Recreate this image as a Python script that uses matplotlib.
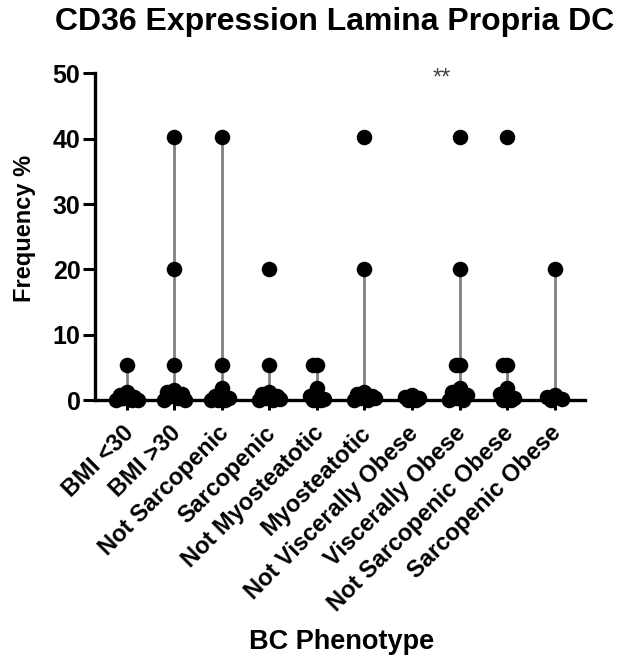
import numpy as np
import matplotlib
matplotlib.use('Agg')
import matplotlib.pyplot as plt
import matplotlib.transforms as mtransforms

plt.rcParams['font.family'] = ['Liberation Sans', 'DejaVu Sans']
plt.rcParams['font.weight'] = 'bold'

groups = ['BMI <30', 'BMI >30', 'Not Sarcopenic', 'Sarcopenic', 'Not Myosteatotic',
          'Myosteatotic', 'Not Viscerally Obese', 'Viscerally Obese',
          'Not Sarcopenic Obese', 'Sarcopenic Obese']

# frequency values per group
values = [
    [5.4, 1.2, 0.8, 0.5, 0.3, 0.2, 0.1, 0.0, 0.0, 0.4],
    [40.2, 20.0, 5.4, 1.5, 1.2, 0.9, 0.6, 0.3, 0.1, 0.0, 0.5],
    [40.2, 5.4, 1.8, 0.6, 0.3, 0.1, 0.0, 0.0],
    [20.0, 5.4, 1.2, 0.9, 0.6, 0.3, 0.1, 0.0, 0.2],
    [5.4, 5.4, 1.8, 0.6, 0.2, 0.0, 0.0],
    [40.2, 20.0, 1.2, 0.9, 0.6, 0.3, 0.1, 0.0, 0.4],
    [0.8, 0.5, 0.3, 0.1, 0.0],
    [40.2, 20.0, 5.4, 5.4, 1.8, 1.2, 0.8, 0.3, 0.1, 0.0],
    [40.2, 5.4, 5.4, 1.8, 0.9, 0.4, 0.1, 0.0],
    [20.0, 0.8, 0.5, 0.2, 0.0],
]
# upper end of the grey range line per group
range_top = [5.4, 40.2, 40.2, 5.4, 5.4, 20.0, 0.0, 20.0, 5.4, 20.0]

fig = plt.figure(figsize=(6.21, 6.66), dpi=100)
ax = fig.add_axes([0.153, 0.399, 0.789, 0.491])

pattern = [0.0, -0.3, 0.3, -0.15, 0.15, -0.45, 0.45, 0.22, -0.22, 0.08, -0.08]
for i, vals in enumerate(values):
    ax.plot([i, i], [0, range_top[i]], color='#808080', lw=2, zorder=2)
    v = np.array(vals)
    xs = np.full(len(v), float(i))
    # spread overlapping points sideways
    seen = {}
    for k, val in enumerate(v):
        key = 0 if val < 3 else val
        n = seen.get(key, 0)
        xs[k] = i + pattern[n % len(pattern)] * (0.5 if val < 3 else 0.25)
        seen[key] = n + 1
    ax.scatter(xs, v, s=125, color='black', zorder=3, clip_on=False, linewidths=0)

ax.text(6.63, 49.2, '**', ha='center', va='center', fontsize=17,
        color='#444444', fontweight='normal')

ax.set_xlim(-0.67, 9.64)
ax.set_ylim(0, 50)
ax.set_yticks([0, 10, 20, 30, 40, 50])
ax.set_xticks(range(len(groups)))
ax.set_xticklabels(groups, rotation=45, ha='right', rotation_mode='anchor',
                   fontsize=17, fontweight='bold')
ax.tick_params(axis='y', labelsize=18, width=2.2, length=8.5, pad=2)
ax.tick_params(axis='x', width=2.2, length=7, pad=4)
shift = mtransforms.ScaledTranslation(-5 / 100, -6 / 100, fig.dpi_scale_trans)
for lbl in ax.get_xticklabels():
    lbl.set_transform(lbl.get_transform() + shift)
for s in ['top', 'right']:
    ax.spines[s].set_visible(False)
for s in ['left', 'bottom']:
    ax.spines[s].set_linewidth(2.4)

fig.text(25 / 621, 1 - 228 / 666, 'Frequency %', rotation=90, ha='center', va='center',
         fontsize=17, fontweight='bold')
fig.text(342 / 621, 0.036, 'BC Phenotype', ha='center', va='center', fontsize=19.5, fontweight='bold')
fig.text(335 / 621, 0.967, 'CD36 Expression Lamina Propria DC', ha='center', va='center',
         fontsize=23, fontweight='bold')

fig.savefig('out.png', dpi=100)
